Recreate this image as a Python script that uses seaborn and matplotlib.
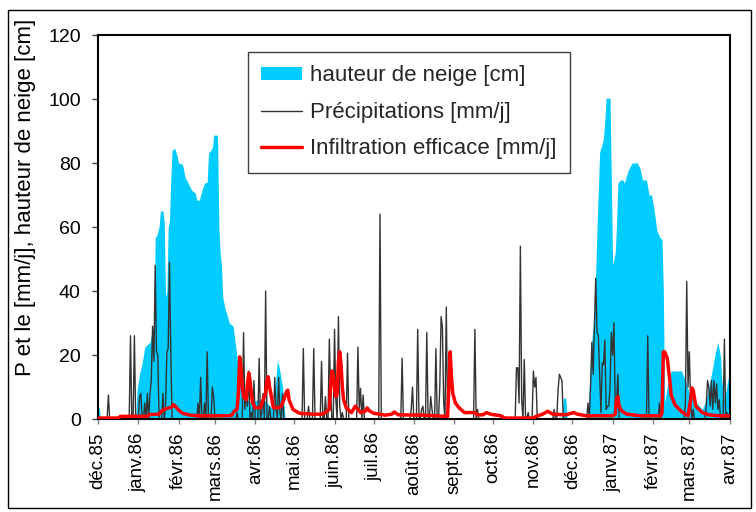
import matplotlib
matplotlib.use("Agg")
import matplotlib.pyplot as plt
import seaborn as sns
import pandas as pd
import numpy as np
from matplotlib.patches import Patch, Rectangle
from matplotlib.lines import Line2D

# ---------------- data ----------------
start_date = "1985-12-01"
n_days = 488

month_starts = ["1985-12-01", "1986-01-01", "1986-02-01", "1986-03-01", "1986-04-01",
                "1986-05-01", "1986-06-01", "1986-07-01", "1986-08-01", "1986-09-01",
                "1986-10-01", "1986-11-01", "1986-12-01", "1987-01-01", "1987-02-01",
                "1987-03-01", "1987-04-01"]
month_labels = ["déc.85", "janv.86", "févr.86", "mars.86", "avr.86", "mai.86", "juin.86",
                "juil.86", "août.86", "sept.86", "oct.86", "nov.86", "déc.86", "janv.87",
                "févr.87", "mars.87", "avr.87"]

# snow height [cm] (day offset from start_date, value)
snow_days = [0, 1, 2, 29, 30, 32, 34, 36, 40, 42,
             43, 44, 45, 47, 48, 50, 51, 52, 53, 54,
             55, 56, 57, 59, 61, 62, 65, 67, 69, 72,
             75, 76, 78, 80, 82, 84, 85, 88, 89, 92,
             93, 94, 95, 96, 98, 99, 101, 104, 105, 107,
             108, 111, 117, 123, 128, 132, 135, 138, 139, 142,
             144, 357, 358, 360, 361, 377, 378, 380, 382, 384,
             385, 386, 388, 389, 390, 391, 394, 395, 396, 398,
             399, 400, 402, 404, 405, 408, 411, 415, 417, 419,
             422, 424, 426, 428, 430, 432, 434, 435, 436, 438,
             441, 449, 452, 455, 459, 465, 468, 472, 475, 477,
             479, 480, 482, 485, 487]
snow_cm = [3.5, 3.5, 0, 0, 9, 14, 17.5, 22.5, 24, 28,
           28, 57, 57, 60, 65, 65, 61, 38, 40, 60,
           62, 75, 84, 84.6, 82, 80, 79.6, 75.6, 74, 71.5,
           70.5, 68.4, 68.4, 71.5, 73.7, 74, 83, 84.7, 88.7, 88.7,
           60, 52, 48, 38, 34, 33, 30, 29, 25.6, 19.4,
           14, 8, 5, 6, 6, 4, 3, 18, 17, 10,
           0, 0, 6.5, 6.5, 0, 0, 10, 24.7, 33, 60,
           71.5, 83.4, 86, 88, 93.4, 100.3, 100.3, 74.7, 48, 52,
           61, 73.7, 74.7, 74.7, 73.7, 77.8, 80, 80, 78.4, 74.7,
           74.7, 70, 70, 65, 59, 57, 56, 40, 5, 10,
           15, 15, 12, 8, 5.7, 3, 6, 14, 20.6, 24,
           19.4, 12, 6, 13, 13]

# daily precipitation [mm/j] (days not listed are 0)
precip_days = [8, 25, 28, 32, 33, 36, 38, 40, 41, 42,
               43, 44, 45, 46, 50, 52, 53, 54, 55, 56,
               77, 79, 82, 84, 88, 89, 107, 112, 113, 114,
               115, 116, 118, 120, 124, 126, 127, 129, 132, 136,
               137, 139, 140, 142, 158, 162, 166, 172, 175, 178,
               179, 182, 183, 185, 186, 188, 192, 200, 201, 202,
               204, 217, 234, 241, 242, 246, 249, 250, 253, 256,
               257, 260, 263, 264, 265, 266, 268, 290, 292, 322,
               323, 324, 325, 326, 328, 331, 335, 336, 337, 351,
               354, 355, 356, 357, 377, 379, 380, 381, 382, 383,
               384, 385, 386, 387, 388, 389, 390, 391, 392, 393,
               394, 395, 396, 397, 398, 399, 400, 423, 432, 452,
               453, 454, 455, 456, 458, 468, 469, 470, 471, 472,
               473, 474, 475, 476, 477, 478, 482, 484]
precip_mm = [7.5, 26, 26, 7, 8, 5, 8, 8, 12, 29,
             18, 48, 21, 20, 8, 4, 21, 22, 49, 21,
             5, 13, 5, 21, 10, 7, 2, 27, 3, 8,
             4, 15, 2, 12, 19, 2, 8, 40, 4, 13,
             3, 13, 2, 8, 22, 4, 22, 18, 7, 25,
             8, 28, 6, 32, 4, 2, 20.6, 22.5, 3, 9.6,
             7.5, 64, 19, 3, 10, 28, 3, 4, 27, 7,
             3, 22, 10, 32, 29, 5, 35, 28, 3, 16,
             16, 5, 54, 6, 18.6, 2, 15, 10, 13, 3,
             9, 14, 13, 12, 5, 10, 24, 14, 30, 44,
             27, 26, 14, 2, 17.5, 17, 24.7, 3, 4, 4,
             10, 27, 20, 30, 3, 5, 14, 26, 5, 5,
             43, 10, 21, 5, 3, 4, 12, 10, 4, 12,
             3, 12, 5, 11, 3, 6, 25, 2]

# effective infiltration [mm/j]
infil_days = [0, 16, 17, 38, 40, 47, 49, 51, 54, 57,
              58, 59, 62, 65, 71, 78, 100, 103, 105, 107,
              108, 109, 110, 111, 112, 114, 115, 116, 117, 118,
              119, 121, 125, 127, 129, 130, 131, 132, 133, 135,
              139, 141, 143, 145, 146, 147, 148, 150, 155, 166,
              172, 175, 178, 179, 180, 181, 182, 183, 184, 185,
              186, 187, 188, 189, 191, 195, 198, 202, 206, 207,
              209, 212, 221, 226, 228, 231, 250, 260, 268, 269,
              270, 271, 272, 273, 275, 278, 282, 290, 292, 296,
              299, 302, 310, 313, 335, 337, 342, 346, 350, 360,
              366, 369, 376, 396, 398, 399, 400, 401, 403, 407,
              417, 433, 434, 435, 436, 438, 440, 441, 444, 449,
              454, 456, 457, 458, 460, 465, 470, 478, 487]
infil_mm = [0.3, 0.3, 0.8, 0.9, 1.4, 1.5, 2.5, 3, 3.4, 3.8,
            4.5, 4.2, 2.8, 1.8, 1.2, 1, 1, 1.2, 2.5, 3,
            8, 19.4, 16, 10, 7, 6, 11, 14.4, 12, 8,
            5, 3.5, 3.5, 6, 8, 12, 13.2, 10, 8, 3.5,
            3.5, 4, 6, 8.5, 9, 6, 5, 3, 1.8, 1.5,
            1.5, 2, 3, 10, 15, 14, 10, 7, 8, 18,
            21, 17, 10, 6, 3.5, 2, 4, 2, 2.5, 3.5,
            2.5, 1.8, 1.2, 1.5, 2.2, 1.3, 1.2, 1, 0.8, 0.8,
            10, 21, 13, 8, 5, 3.4, 2, 2, 1.3, 1.3,
            2, 1.5, 1, 0.3, 0.3, 0.8, 1.5, 2.4, 1.5, 1.3,
            2, 1.5, 1, 1, 1.5, 6, 7, 4, 2.5, 1.5,
            1, 1, 2, 21, 21, 19, 12, 7.5, 4.4, 2.3,
            1, 6, 9.7, 9, 4, 2, 1.3, 1, 1]

# ---------------- frames ----------------
start = pd.Timestamp(start_date)


def to_dates(days):
    return start + pd.to_timedelta(np.asarray(days), unit="D")


precip_daily = np.zeros(n_days)
precip_daily[np.asarray(precip_days)] = precip_mm
df_p = pd.DataFrame({"date": to_dates(np.arange(n_days)), "v": precip_daily})
df_i = pd.DataFrame({"date": to_dates(infil_days), "v": infil_mm})
df_s = pd.DataFrame({"date": to_dates(snow_days), "v": snow_cm})

# ---------------- plot ----------------
sns.set_theme(style="white")
plt.rcParams["font.family"] = ["Liberation Sans", "DejaVu Sans"]

W, H = 756, 512
fig = plt.figure(figsize=(W / 100, H / 100), dpi=100)
ax = fig.add_axes([98 / W, 1 - 419 / H, 632 / W, 384 / H])

cyan = "#00CCFF"
ax.fill_between(df_s["date"], df_s["v"], 0, color=cyan, linewidth=0, zorder=1)
sns.lineplot(data=df_p, x="date", y="v", ax=ax, color="#333333", linewidth=1.0, zorder=2)
sns.lineplot(data=df_i, x="date", y="v", ax=ax, color="#FF0000", linewidth=2.5, zorder=3)

ax.set_xlim(start, start + pd.Timedelta(days=486.3))
ax.set_ylim(0, 120)
ax.set_yticks(range(0, 121, 20))
ax.set_yticklabels([str(v) for v in range(0, 121, 20)], fontsize=14, color="black")
ax.set_xticks(pd.to_datetime(month_starts))
ax.set_xticklabels(month_labels, rotation=90, fontsize=13.5, color="black")
ax.tick_params(axis="y", direction="out", length=4.5, width=1, color="#404040", pad=8, left=True)
ax.tick_params(axis="x", direction="out", length=3.6, width=1, color="#808080", pad=6, bottom=True)

ax.set_xlabel("")
ax.set_ylabel("P et le [mm/j], hauteur de neige [cm]", fontsize=16, color="black")
ax.yaxis.set_label_coords(-0.098, 0.578)

for s in ax.spines.values():
    s.set_visible(True)
    s.set_color("black")
    s.set_linewidth(1.5)

handles = [Patch(facecolor=cyan, edgecolor="none"),
           Line2D([], [], color="#333333", linewidth=1.0),
           Line2D([], [], color="#FF0000", linewidth=2.5)]
labels = ["hauteur de neige [cm]", "Précipitations [mm/j]", "Infiltration efficace [mm/j]"]
leg = ax.legend(handles, labels, loc="upper left", bbox_to_anchor=(0.237, 0.956),
                borderaxespad=0, fontsize=16, frameon=True, fancybox=False,
                framealpha=1, edgecolor="#404040", borderpad=0.6, labelspacing=0.7,
                handlelength=1.85, handletextpad=0.35, handleheight=0.55)
leg.get_frame().set_linewidth(1.0)

fig.patches.append(Rectangle((8 / W, 4 / H), (751 - 8) / W, (502 - 4) / H,
                             transform=fig.transFigure, fill=False,
                             edgecolor="black", linewidth=1.0))

fig.savefig("out.png", dpi=100)
